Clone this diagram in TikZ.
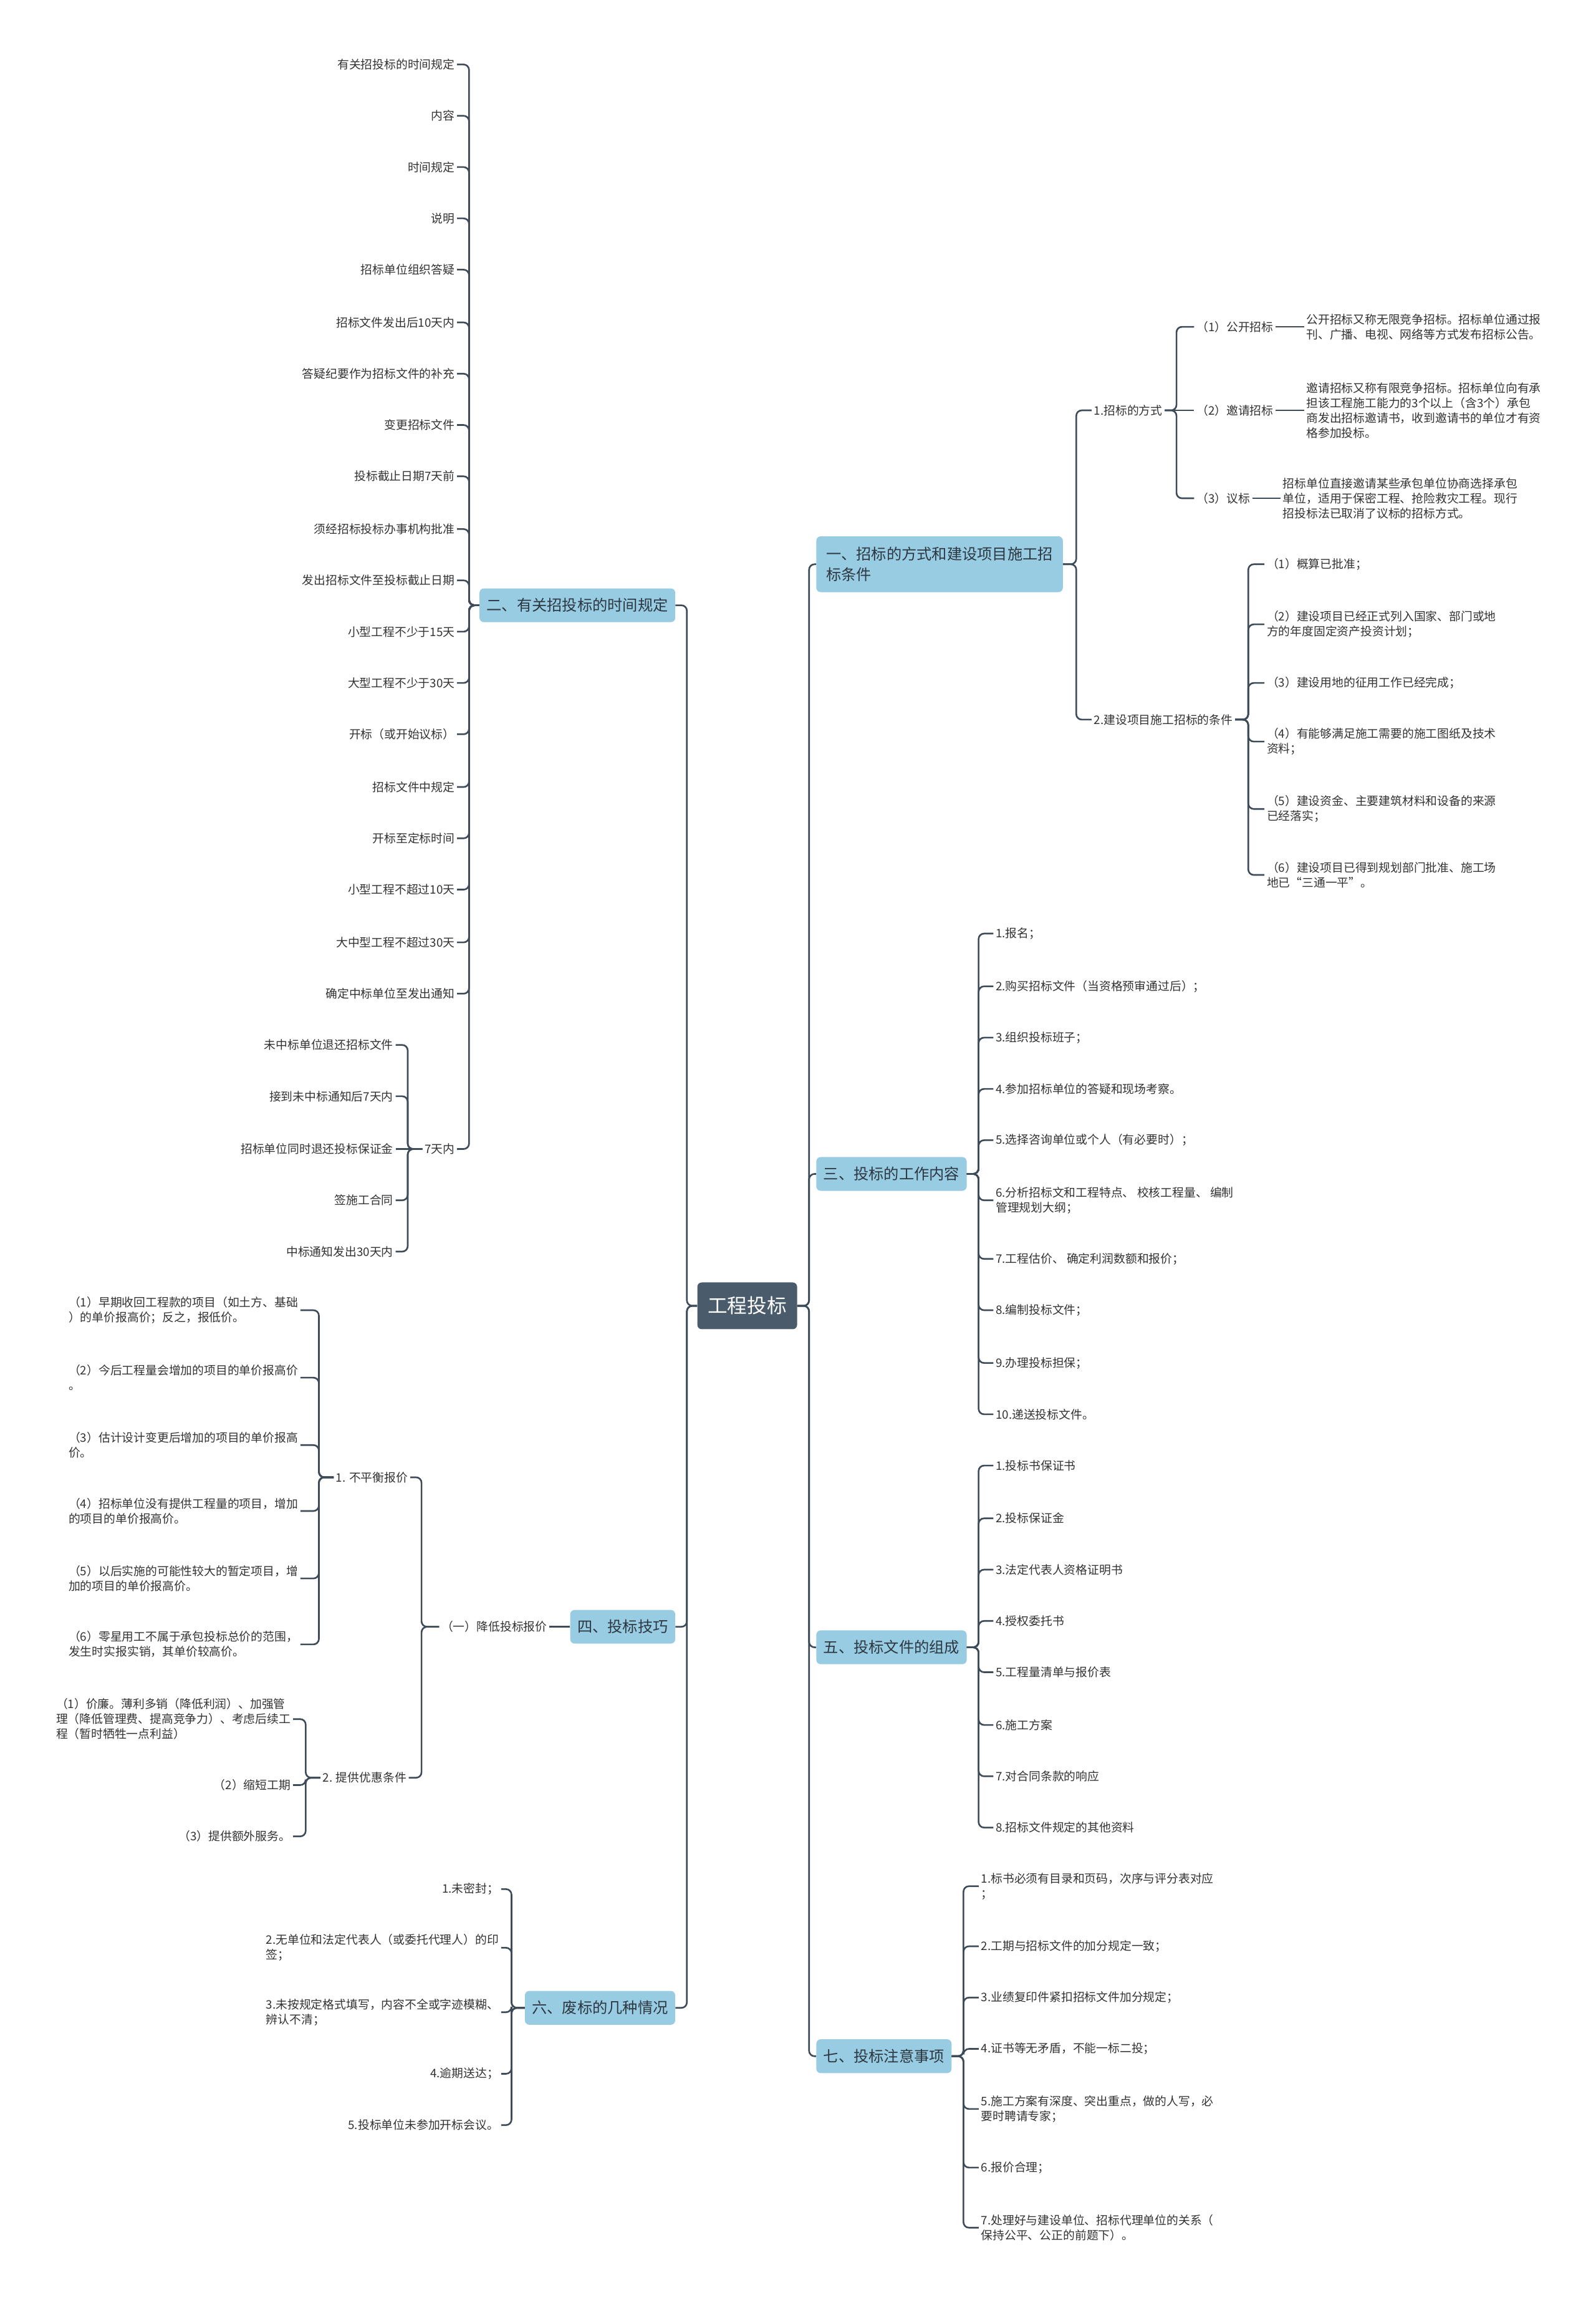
\documentclass[tikz,border=0pt]{standalone}
\usepackage{fontspec}
\setmainfont{Noto Sans CJK SC}
\usepackage{tikz}
\definecolor{linkC}{RGB}{62,75,88}
\definecolor{rootC}{RGB}{74,91,108}
\definecolor{mainC}{RGB}{152,204,226}
\definecolor{mainT}{RGB}{45,55,65}
\definecolor{leafT}{RGB}{50,50,50}

\begin{document}
\begin{tikzpicture}[x=0.047cm,y=-0.047cm,
  rootnode/.style={rounded corners=4pt,fill=rootC,text=white,font=\fontsize{18pt}{22pt}\selectfont,minimum width=3.2cm,minimum height=1.5cm,inner sep=0pt},
  mainnode/.style={rounded corners=4pt,fill=mainC,text=mainT,font=\fontsize{13.8pt}{18.5pt}\selectfont,inner xsep=6.5pt,inner ysep=9pt,align=left},
  leaf/.style={text=leafT,font=\fontsize{10.7pt}{13.6pt}\selectfont,inner xsep=2pt,inner ysep=1pt,align=left},
  link/.style={draw=linkC,line width=1.5pt,rounded corners=5pt}]
  \useasboundingbox (0,0) rectangle (1089,1568);

  % root and main branches
  \node[rootnode] (root) at (510,891) {工程投标};
  \node[mainnode,anchor=west,inner xsep=9pt,minimum height=1.79cm] (b1) at (557,385) {一、招标的方式和建设项目施工招\\标条件};
  \node[mainnode,anchor=east] (b2) at (461,413) {二、有关招投标的时间规定};
  \node[mainnode,anchor=west] (b3) at (557,801) {三、投标的工作内容};
  \node[mainnode,anchor=east] (b4) at (461,1110) {四、投标技巧};
  \node[mainnode,anchor=west] (b5) at (557,1124) {五、投标文件的组成};
  \node[mainnode,anchor=east] (b6) at (461,1370) {六、废标的几种情况};
  \node[mainnode,anchor=west] (b7) at (557,1403) {七、投标注意事项};

  % 一
  \node[leaf,anchor=west] (m1) at (745,280) {1.招标的方式};
  \node[leaf,anchor=west] (m2) at (745,491) {2.建设项目施工招标的条件};
  \node[leaf,anchor=west] (p1) at (815,223) {（1）公开招标};
  \node[leaf,anchor=west] (p2) at (815,280) {（2）邀请招标};
  \node[leaf,anchor=west] (p3) at (815,340) {（3）议标};
  \node[leaf,anchor=west] (d1) at (890,223) {公开招标又称无限竞争招标。招标单位通过报\\刊、广播、电视、网络等方式发布招标公告。};
  \node[leaf,anchor=west] (d2) at (890,280) {邀请招标又称有限竞争招标。招标单位向有承\\担该工程施工能力的3个以上（含3个）承包\\商发出招标邀请书，收到邀请书的单位才有资\\格参加投标。};
  \node[leaf,anchor=west] (d3) at (874,340) {招标单位直接邀请某些承包单位协商选择承包\\单位，适用于保密工程、抢险救灾工程。现行\\招投标法已取消了议标的招标方式。};
  \node[leaf,anchor=west] (c1) at (863,385) {（1）概算已批准；};
  \node[leaf,anchor=west] (c2) at (863,426) {（2）建设项目已经正式列入国家、部门或地\\方的年度固定资产投资计划；};
  \node[leaf,anchor=west] (c3) at (863,466) {（3）建设用地的征用工作已经完成；};
  \node[leaf,anchor=west] (c4) at (863,506) {（4）有能够满足施工需要的施工图纸及技术\\资料；};
  \node[leaf,anchor=west] (c5) at (863,552) {（5）建设资金、主要建筑材料和设备的来源\\已经落实；};
  \node[leaf,anchor=west] (c6) at (863,597) {（6）建设项目已得到规划部门批准、施工场\\地已“三通一平”。};

  % 二
  \node[leaf,anchor=east] (t1) at (312,44) {有关招投标的时间规定};
  \node[leaf,anchor=east] (t2) at (312,79) {内容};
  \node[leaf,anchor=east] (t3) at (312,114) {时间规定};
  \node[leaf,anchor=east] (t4) at (312,149) {说明};
  \node[leaf,anchor=east] (t5) at (312,184) {招标单位组织答疑};
  \node[leaf,anchor=east] (t6) at (312,220) {招标文件发出后10天内};
  \node[leaf,anchor=east] (t7) at (312,255) {答疑纪要作为招标文件的补充};
  \node[leaf,anchor=east] (t8) at (312,290) {变更招标文件};
  \node[leaf,anchor=east] (t9) at (312,325) {投标截止日期7天前};
  \node[leaf,anchor=east] (t10) at (312,361) {须经招标投标办事机构批准};
  \node[leaf,anchor=east] (t11) at (312,396) {发出招标文件至投标截止日期};
  \node[leaf,anchor=east] (t12) at (312,431) {小型工程不少于15天};
  \node[leaf,anchor=east] (t13) at (312,466) {大型工程不少于30天};
  \node[leaf,anchor=east] (t14) at (312,501) {开标（或开始议标）};
  \node[leaf,anchor=east] (t15) at (312,537) {招标文件中规定};
  \node[leaf,anchor=east] (t16) at (312,572) {开标至定标时间};
  \node[leaf,anchor=east] (t17) at (312,607) {小型工程不超过10天};
  \node[leaf,anchor=east] (t18) at (312,643) {大中型工程不超过30天};
  \node[leaf,anchor=east] (t19) at (312,678) {确定中标单位至发出通知};
  \node[leaf,anchor=east] (t20) at (312,784) {7天内};
  \node[leaf,anchor=east] (s1) at (270,713) {未中标单位退还招标文件};
  \node[leaf,anchor=east] (s2) at (270,748) {接到未中标通知后7天内};
  \node[leaf,anchor=east] (s3) at (270,784) {招标单位同时退还投标保证金};
  \node[leaf,anchor=east] (s4) at (270,819) {签施工合同};
  \node[leaf,anchor=east] (s5) at (270,854) {中标通知发出30天内};

  % 三
  \node[leaf,anchor=west] (w1) at (678,637) {1.报名；};
  \node[leaf,anchor=west] (w2) at (678,673) {2.购买招标文件（当资格预审通过后）；};
  \node[leaf,anchor=west] (w3) at (678,708) {3.组织投标班子；};
  \node[leaf,anchor=west] (w4) at (678,743) {4.参加招标单位的答疑和现场考察。};
  \node[leaf,anchor=west] (w5) at (678,778) {5.选择咨询单位或个人（有必要时）；};
  \node[leaf,anchor=west] (w6) at (678,819) {6.分析招标文和工程特点、 校核工程量、 编制\\管理规划大纲；};
  \node[leaf,anchor=west] (w7) at (678,859) {7.工程估价、 确定利润数额和报价；};
  \node[leaf,anchor=west] (w8) at (678,894) {8.编制投标文件；};
  \node[leaf,anchor=west] (w9) at (678,930) {9.办理投标担保；};
  \node[leaf,anchor=west] (w10) at (678,965) {10.递送投标文件。};

  % 四
  \node[leaf,anchor=east] (q0) at (375,1110) {（一）降低投标报价};
  \node[leaf,anchor=east] (q1) at (280,1008) {1. 不平衡报价};
  \node[leaf,anchor=east] (q2) at (279,1213) {2. 提供优惠条件};
  \node[leaf,anchor=east] (u1) at (205,894) {（1）早期收回工程款的项目（如土方、基础\\）的单价报高价；反之，报低价。};
  \node[leaf,anchor=east] (u2) at (205,940) {（2）今后工程量会增加的项目的单价报高价\\。};
  \node[leaf,anchor=east] (u3) at (205,986) {（3）估计设计变更后增加的项目的单价报高\\价。};
  \node[leaf,anchor=east] (u4) at (205,1031) {（4）招标单位没有提供工程量的项目，增加\\的项目的单价报高价。};
  \node[leaf,anchor=east] (u5) at (205,1077) {（5）以后实施的可能性较大的暂定项目，增\\加的项目的单价报高价。};
  \node[leaf,anchor=east] (u6) at (205,1122) {（6）零星用工不属于承包投标总价的范围，\\发生时实报实销，其单价较高价。};
  \node[leaf,anchor=east] (v1) at (200,1173) {（1）价廉。薄利多销（降低利润）、加强管\\理（降低管理费、提高竞争力）、考虑后续工\\程（暂时牺牲一点利益）};
  \node[leaf,anchor=east] (v2) at (200,1218) {（2）缩短工期};
  \node[leaf,anchor=east] (v3) at (200,1253) {（3）提供额外服务。};

  % 五
  \node[leaf,anchor=west] (f1) at (678,1000) {1.投标书保证书};
  \node[leaf,anchor=west] (f2) at (678,1036) {2.投标保证金};
  \node[leaf,anchor=west] (f3) at (678,1071) {3.法定代表人资格证明书};
  \node[leaf,anchor=west] (f4) at (678,1106) {4.授权委托书};
  \node[leaf,anchor=west] (f5) at (678,1141) {5.工程量清单与报价表};
  \node[leaf,anchor=west] (f6) at (678,1177) {6.施工方案};
  \node[leaf,anchor=west] (f7) at (678,1212) {7.对合同条款的响应};
  \node[leaf,anchor=west] (f8) at (678,1247) {8.招标文件规定的其他资料};

  % 六
  \node[leaf,anchor=east] (x1) at (342,1289) {1.未密封；};
  \node[leaf,anchor=east] (x2) at (342,1329) {2.无单位和法定代表人（或委托代理人）的印\\签；};
  \node[leaf,anchor=east] (x3) at (342,1373) {3.未按规定格式填写，内容不全或字迹模糊、\\辨认不清；};
  \node[leaf,anchor=east] (x4) at (342,1415) {4.逾期送达；};
  \node[leaf,anchor=east] (x5) at (342,1450) {5.投标单位未参加开标会议。};

  % 七
  \node[leaf,anchor=west] (n1) at (668,1287) {1.标书必须有目录和页码，次序与评分表对应\\；};
  \node[leaf,anchor=west] (n2) at (668,1328) {2.工期与招标文件的加分规定一致；};
  \node[leaf,anchor=west] (n3) at (668,1363) {3.业绩复印件紧扣招标文件加分规定；};
  \node[leaf,anchor=west] (n4) at (668,1398) {4.证书等无矛盾，不能一标二投；};
  \node[leaf,anchor=west] (n5) at (668,1439) {5.施工方案有深度、突出重点，做的人写，必\\要时聘请专家；};
  \node[leaf,anchor=west] (n6) at (668,1479) {6.报价合理；};
  \node[leaf,anchor=west] (n7) at (668,1520) {7.处理好与建设单位、招标代理单位的关系（\\保持公平、公正的前题下）。};

  % connectors
  \draw[link] (root.east) -- ++(8,0) |- (b1.west);
  \draw[link] (root.east) -- ++(8,0) |- (b3.west);
  \draw[link] (root.east) -- ++(8,0) |- (b5.west);
  \draw[link] (root.east) -- ++(8,0) |- (b7.west);
  \draw[link] (root.west) -- ++(-7,0) |- (b2.east);
  \draw[link] (root.west) -- ++(-7,0) |- (b4.east);
  \draw[link] (root.west) -- ++(-7,0) |- (b6.east);

  \draw[link] (b1.east) -- ++(9,0) |- (m1.west);
  \draw[link] (b1.east) -- ++(9,0) |- (m2.west);
  \draw[link] (m1.east) -- ++(8,0) |- (p1.west);
  \draw[link] (m1.east) -- (p2.west);
  \draw[link] (m1.east) -- ++(8,0) |- (p3.west);
  \draw[link] (p1) -- (d1);
  \draw[link] (p2) -- (d2);
  \draw[link] (p3) -- (d3);
  \draw[link] (m2.east) -- ++(9,0) |- (c1.west);
  \draw[link] (m2.east) -- ++(9,0) |- (c2.west);
  \draw[link] (m2.east) -- ++(9,0) |- (c3.west);
  \draw[link] (m2.east) -- ++(9,0) |- (c4.west);
  \draw[link] (m2.east) -- ++(9,0) |- (c5.west);
  \draw[link] (m2.east) -- ++(9,0) |- (c6.west);

  \draw[link] (b2.west) -- ++(-7,0) |- (t1.east);
  \draw[link] (b2.west) -- ++(-7,0) |- (t2.east);
  \draw[link] (b2.west) -- ++(-7,0) |- (t3.east);
  \draw[link] (b2.west) -- ++(-7,0) |- (t4.east);
  \draw[link] (b2.west) -- ++(-7,0) |- (t5.east);
  \draw[link] (b2.west) -- ++(-7,0) |- (t6.east);
  \draw[link] (b2.west) -- ++(-7,0) |- (t7.east);
  \draw[link] (b2.west) -- ++(-7,0) |- (t8.east);
  \draw[link] (b2.west) -- ++(-7,0) |- (t9.east);
  \draw[link] (b2.west) -- ++(-7,0) |- (t10.east);
  \draw[link] (b2.west) -- ++(-7,0) |- (t11.east);
  \draw[link] (b2.west) -- ++(-7,0) |- (t12.east);
  \draw[link] (b2.west) -- ++(-7,0) |- (t13.east);
  \draw[link] (b2.west) -- ++(-7,0) |- (t14.east);
  \draw[link] (b2.west) -- ++(-7,0) |- (t15.east);
  \draw[link] (b2.west) -- ++(-7,0) |- (t16.east);
  \draw[link] (b2.west) -- ++(-7,0) |- (t17.east);
  \draw[link] (b2.west) -- ++(-7,0) |- (t18.east);
  \draw[link] (b2.west) -- ++(-7,0) |- (t19.east);
  \draw[link] (b2.west) -- ++(-7,0) |- (t20.east);
  \draw[link] (t20.west) -- ++(-10,0) |- (s1.east);
  \draw[link] (t20.west) -- ++(-10,0) |- (s2.east);
  \draw[link] (t20.west) -- (s3.east);
  \draw[link] (t20.west) -- ++(-10,0) |- (s4.east);
  \draw[link] (t20.west) -- ++(-10,0) |- (s5.east);

  \draw[link] (b3.east) -- ++(8,0) |- (w1.west);
  \draw[link] (b3.east) -- ++(8,0) |- (w2.west);
  \draw[link] (b3.east) -- ++(8,0) |- (w3.west);
  \draw[link] (b3.east) -- ++(8,0) |- (w4.west);
  \draw[link] (b3.east) -- ++(8,0) |- (w5.west);
  \draw[link] (b3.east) -- ++(8,0) |- (w6.west);
  \draw[link] (b3.east) -- ++(8,0) |- (w7.west);
  \draw[link] (b3.east) -- ++(8,0) |- (w8.west);
  \draw[link] (b3.east) -- ++(8,0) |- (w9.west);
  \draw[link] (b3.east) -- ++(8,0) |- (w10.west);

  \draw[link] (b4.west) -- (q0.east);
  \draw[link] (q0.west) -- ++(-12,0) |- (q1.east);
  \draw[link] (q0.west) -- ++(-12,0) |- (q2.east);
  \draw[link] (q1.west) -- ++(-10,0) |- (u1.east);
  \draw[link] (q1.west) -- ++(-10,0) |- (u2.east);
  \draw[link] (q1.west) -- ++(-10,0) |- (u3.east);
  \draw[link] (q1.west) -- ++(-10,0) |- (u4.east);
  \draw[link] (q1.west) -- ++(-10,0) |- (u5.east);
  \draw[link] (q1.west) -- ++(-10,0) |- (u6.east);
  \draw[link] (q2.west) -- ++(-10,0) |- (v1.east);
  \draw[link] (q2.west) -- ++(-10,0) |- (v2.east);
  \draw[link] (q2.west) -- ++(-10,0) |- (v3.east);

  \draw[link] (b5.east) -- ++(8,0) |- (f1.west);
  \draw[link] (b5.east) -- ++(8,0) |- (f2.west);
  \draw[link] (b5.east) -- ++(8,0) |- (f3.west);
  \draw[link] (b5.east) -- ++(8,0) |- (f4.west);
  \draw[link] (b5.east) -- ++(8,0) |- (f5.west);
  \draw[link] (b5.east) -- ++(8,0) |- (f6.west);
  \draw[link] (b5.east) -- ++(8,0) |- (f7.west);
  \draw[link] (b5.east) -- ++(8,0) |- (f8.west);

  \draw[link] (b6.west) -- ++(-9,0) |- (x1.east);
  \draw[link] (b6.west) -- ++(-9,0) |- (x2.east);
  \draw[link] (b6.west) -- ++(-9,0) |- (x3.east);
  \draw[link] (b6.west) -- ++(-9,0) |- (x4.east);
  \draw[link] (b6.west) -- ++(-9,0) |- (x5.east);

  \draw[link] (b7.east) -- ++(8,0) |- (n1.west);
  \draw[link] (b7.east) -- ++(8,0) |- (n2.west);
  \draw[link] (b7.east) -- ++(8,0) |- (n3.west);
  \draw[link] (b7.east) -- ++(8,0) |- (n4.west);
  \draw[link] (b7.east) -- ++(8,0) |- (n5.west);
  \draw[link] (b7.east) -- ++(8,0) |- (n6.west);
  \draw[link] (b7.east) -- ++(8,0) |- (n7.west);
\end{tikzpicture}
\end{document}
